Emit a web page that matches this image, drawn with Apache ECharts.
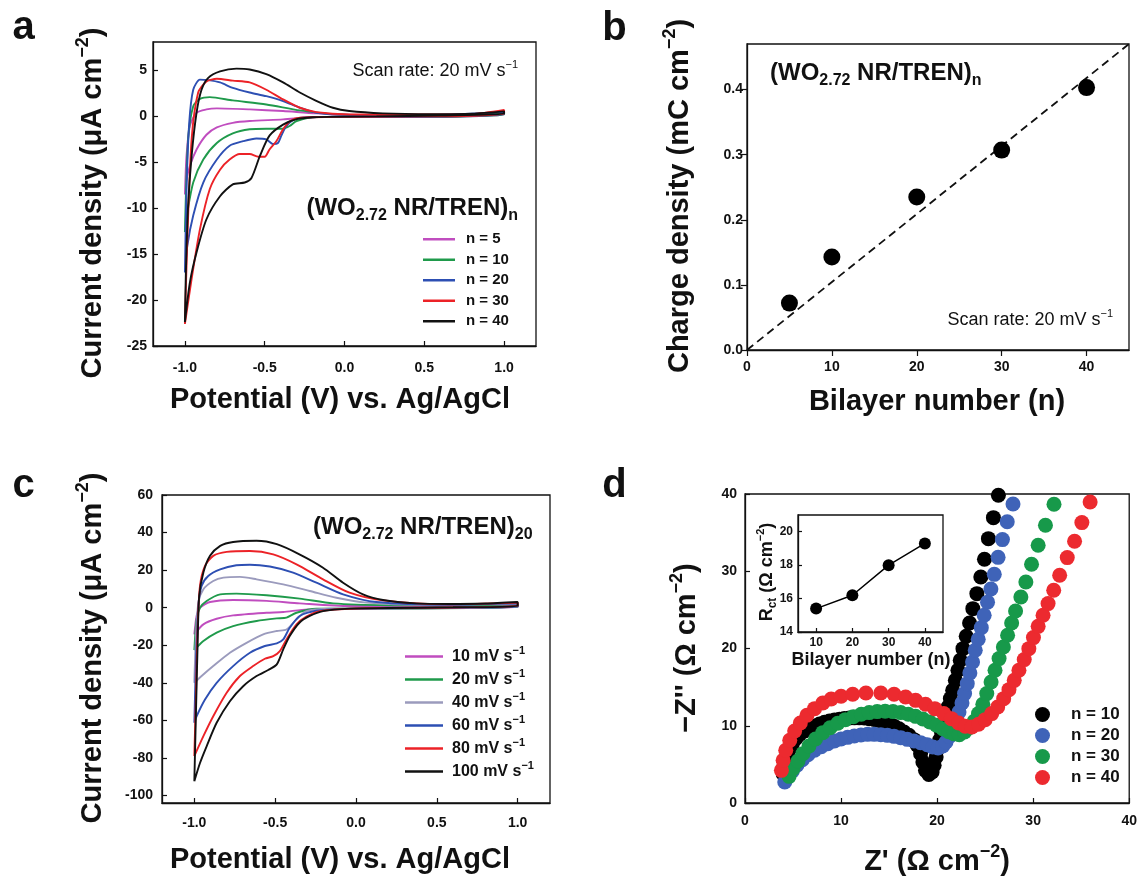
<!DOCTYPE html>
<html>
<head>
<meta charset="utf-8">
<script src="https://cdn.jsdelivr.net/npm/echarts@6/dist/echarts.min.js"></script>
<style>html,body{margin:0;padding:0;background:#fff}#chart{width:1140px;height:880px}</style>
</head>
<body>
<div id="chart"></div>
<script>
// ---------- DATA ----------
// Panel a: CV curves (potential V, current density uA cm-2), scan rate 20 mV/s
const cvA_names = ['n = 5', 'n = 10', 'n = 20', 'n = 30', 'n = 40'];
const cvA_n5 = [[-1.0,-8.5],[-0.99,-4.3],[-0.969,-1.05],[-0.927,0.4],[-0.865,0.76],[-0.80,0.87],[-0.594,0.76],[-0.385,0.58],[-0.177,0.33],[0.24,0.1],[0.6,0.1],[1.0,0.33],
  [1.0,0.18],[0.5,-0.05],[-0.177,-0.07],[-0.385,-0.33],[-0.594,-0.5],[-0.70,-0.7],[-0.80,-1.2],[-0.865,-2.0],[-0.927,-3.6],[-0.969,-5.4],[-0.994,-7.2],[-1.0,-8.5]];
const cvA_n10 = [[-1.0,-12.6],[-0.98,-2.5],[-0.948,1.1],[-0.906,1.9],[-0.844,2.1],[-0.70,1.74],[-0.49,1.3],[-0.28,0.65],[-0.073,0.25],[0.24,0.1],[0.6,0.1],[1.0,0.4],
  [1.0,0.18],[0.5,-0.05],[-0.177,-0.07],[-0.30,-0.5],[-0.344,-1.05],[-0.385,-1.34],[-0.49,-1.34],[-0.594,-1.4],[-0.70,-1.85],[-0.80,-2.9],[-0.885,-4.7],[-0.948,-7.2],[-0.985,-10.5],[-1.0,-12.6]];
const cvA_n20 = [[-1.0,-17],[-0.99,-7.9],[-0.973,-0.7],[-0.948,2.9],[-0.906,4.0],[-0.854,3.95],[-0.78,3.7],[-0.70,3.1],[-0.594,2.6],[-0.49,2.2],[-0.385,1.67],[-0.28,0.94],[-0.177,0.4],[0.03,0.15],[0.5,0.15],[1.0,0.47],
  [1.0,0.22],[0.5,-0.05],[-0.177,-0.07],[-0.30,-0.25],[-0.365,-1.05],[-0.396,-2.1],[-0.417,-2.9],[-0.45,-3.0],[-0.49,-2.5],[-0.552,-2.4],[-0.635,-2.7],[-0.72,-3.2],[-0.80,-4.7],[-0.885,-7.2],[-0.948,-10.8],[-0.985,-14.1],[-1.0,-17]];
const cvA_n30 = [[-1.0,-22.6],[-0.985,-13.4],[-0.958,-2.5],[-0.917,2.6],[-0.865,3.8],[-0.80,4.1],[-0.70,3.9],[-0.594,3.7],[-0.49,2.9],[-0.385,1.85],[-0.28,0.94],[-0.177,0.47],[0.03,0.22],[0.45,0.2],[0.8,0.25],[1.0,0.69],
  [1.0,0.3],[0.6,0.0],[0.0,-0.04],[-0.28,-0.15],[-0.34,-0.5],[-0.385,-1.4],[-0.427,-2.7],[-0.47,-3.6],[-0.50,-4.4],[-0.54,-4.4],[-0.594,-4.1],[-0.656,-4.1],[-0.72,-4.7],[-0.78,-5.8],[-0.844,-7.9],[-0.906,-12.3],[-0.958,-17.7],[-1.0,-22.6]];
const cvA_n40 = [[-1.0,-22.4],[-0.994,-17],[-0.98,-9.7],[-0.958,-4.3],[-0.927,0.4],[-0.896,2.9],[-0.854,4.2],[-0.78,4.9],[-0.677,5.2],[-0.594,5.1],[-0.49,4.6],[-0.385,3.7],[-0.28,2.6],[-0.177,1.7],[-0.073,0.94],[0.03,0.58],[0.24,0.33],[0.55,0.25],[0.8,0.3],[1.0,0.55],
  [1.0,0.3],[0.6,0.1],[0.2,0.0],[-0.1,-0.05],[-0.2,-0.1],[-0.30,-0.3],[-0.385,-0.9],[-0.47,-2.1],[-0.53,-4.3],[-0.583,-6.7],[-0.625,-7.2],[-0.70,-7.4],[-0.78,-8.7],[-0.865,-11.2],[-0.927,-14.8],[-0.969,-18.1],[-1.0,-22.4]];
const cvA_colors = ['#c04dbf', '#1f9a4b', '#2d4fb3', '#ec2227', '#111111'];

// Panel b: charge density vs bilayer number
const bilayerB = [5, 10, 20, 30, 40];
const chargeB = [0.072, 0.143, 0.235, 0.307, 0.403];
const fitB = [[0, 0], [45, 0.47]];

// Panel c: CV curves of (WO2.72 NR/TREN)20 at different scan rates
const cvC_names = ['10 mV s-1', '20 mV s-1', '40 mV s-1', '60 mV s-1', '80 mV s-1', '100 mV s-1'];
const cvC_10 = [[-1.0,-14.2],[-0.986,-4.4],[-0.965,0],[-0.903,3.0],[-0.76,4.1],[-0.553,3.6],[-0.348,2.3],[-0.04,0.9],[0.5,0.9],[1.0,1.3],
  [1.0,0.2],[0.4,-0.3],[-0.3,-0.9],[-0.45,-2.3],[-0.553,-2.7],[-0.76,-4.1],[-0.862,-5.9],[-0.944,-8.9],[-1.0,-14.2]];
const cvC_20 = [[-1.0,-22.6],[-0.986,-6.2],[-0.965,0],[-0.924,3.6],[-0.84,7.1],[-0.74,7.5],[-0.553,6.6],[-0.348,4.8],[-0.142,2.3],[0.2,1.3],[0.6,1.2],[1.0,1.8],
  [1.0,0.3],[0.4,-0.4],[-0.245,-0.6],[-0.368,-2.7],[-0.43,-5.3],[-0.49,-5.7],[-0.615,-7.1],[-0.76,-9.8],[-0.862,-13.3],[-0.944,-17.8],[-1.0,-22.6]];
const cvC_40 = [[-1.0,-40],[-0.99,-15.1],[-0.975,2.7],[-0.944,9.8],[-0.883,14.2],[-0.82,16],[-0.718,16.4],[-0.615,15.1],[-0.45,12.4],[-0.286,8.9],[-0.121,5.3],[0.064,2.7],[0.4,1.4],[1.0,2.1],
  [1.0,0.5],[0.4,-0.3],[-0.167,-0.5],[-0.307,-1.8],[-0.368,-6.2],[-0.43,-11.6],[-0.49,-12.4],[-0.574,-14.2],[-0.677,-18.7],[-0.78,-24],[-0.883,-31.1],[-0.955,-36.4],[-1.0,-40]];
const cvC_60 = [[-1.0,-61.3],[-0.99,-29.3],[-0.975,0.9],[-0.955,11.6],[-0.914,16.9],[-0.84,20.4],[-0.74,22.6],[-0.656,22.9],[-0.533,21.9],[-0.389,18.7],[-0.245,13.3],[-0.08,7.1],[0.125,3.0],[0.578,1.6],[1.0,2.3],
  [1.0,0.5],[0.6,0.0],[0.0,-0.5],[-0.245,-1.6],[-0.348,-4.4],[-0.41,-10.7],[-0.45,-16.9],[-0.49,-19],[-0.564,-20.4],[-0.656,-24],[-0.76,-31.1],[-0.862,-40],[-0.934,-48.9],[-0.986,-57.8],[-1.0,-61.3]];
const cvC_80 = [[-1.0,-79],[-0.99,-47],[-0.98,-11.6],[-0.965,11.6],[-0.934,22.2],[-0.883,27.6],[-0.80,29.7],[-0.656,30.2],[-0.512,28.4],[-0.368,23.1],[-0.204,15.1],[-0.04,8],[0.167,3.9],[0.578,1.8],[1.0,2.7],
  [1.0,0.9],[0.6,0.1],[0.0,-0.4],[-0.224,-1.8],[-0.307,-4.8],[-0.368,-8.9],[-0.43,-16.9],[-0.471,-23.1],[-0.512,-25.8],[-0.564,-27.2],[-0.636,-31.1],[-0.718,-36.4],[-0.80,-45.3],[-0.883,-57.8],[-0.944,-68.4],[-1.0,-79]];
const cvC_100 = [[-1.0,-92.4],[-0.99,-56],[-0.98,-20.4],[-0.97,6.2],[-0.944,18.7],[-0.903,27.6],[-0.84,32.9],[-0.76,35],[-0.615,35.6],[-0.49,33.8],[-0.35,28.4],[-0.204,21.3],[-0.08,13.3],[0.043,7.1],[0.167,4.1],[0.372,2.3],[0.578,1.96],[0.8,2.2],[1.0,3.0],
  [1.0,0.9],[0.6,0.2],[0.2,-0.2],[-0.04,-0.5],[-0.204,-1.8],[-0.286,-4.4],[-0.35,-8],[-0.41,-15.1],[-0.45,-22.2],[-0.49,-30.2],[-0.543,-33.2],[-0.615,-36.4],[-0.698,-41.8],[-0.78,-49.8],[-0.862,-61.3],[-0.924,-73.8],[-0.965,-82.7],[-1.0,-92.4]];
const cvC_colors = ['#c04dbf', '#1f9a4b', '#9b9bbd', '#2d4fb3', '#ec2227', '#111111'];

// Panel d: Nyquist plots (Z', -Z'')
const eis_names = ['n = 10', 'n = 20', 'n = 30', 'n = 40'];
const eis_n10 = [[3.97,3.80],[4.03,4.66],[4.21,5.52],[4.41,6.30],[4.66,7.03],[4.93,7.68],[5.28,8.33],[5.69,8.89],[6.21,9.32],[6.72,9.67],[7.24,9.97],[7.76,10.23],[8.28,10.45],[8.79,10.62],[9.31,10.75],[9.83,10.85],[10.34,10.95],[10.86,11.0],[11.38,11.02],[11.90,11.02],[12.41,11.0],[12.93,10.92],[13.45,10.82],[13.97,10.68],[14.48,10.5],[15.0,10.25],[15.52,9.95],[16.03,9.62],[16.55,9.19],[17.07,8.76],[17.59,8.2],[17.93,7.47],[18.28,6.39],[18.52,5.31],[18.79,4.23],[19.14,3.7],[19.48,4.01],[19.69,4.88],[19.90,5.96],[20.07,7.03],[20.24,8.11],[20.45,9.19],[20.66,10.27],[20.86,11.35],[21.14,12.43],[21.38,13.51],[21.62,14.59],[21.90,15.88],[22.17,17.18],[22.41,18.47],[22.69,19.98],[23.03,21.58],[23.38,23.31],[23.72,25.16],[24.14,27.10],[24.55,29.26],[24.93,31.55],[25.34,34.22],[25.86,36.94],[26.38,39.84]];
const eis_n20 = [[4.14,2.72],[4.48,3.37],[4.93,4.14],[5.41,4.88],[5.97,5.61],[6.55,6.26],[7.24,6.82],[7.93,7.29],[8.62,7.68],[9.31,8.03],[10.0,8.29],[10.69,8.50],[11.38,8.68],[12.07,8.80],[12.76,8.89],[13.45,8.89],[14.14,8.85],[14.83,8.76],[15.52,8.63],[16.21,8.46],[16.90,8.24],[17.59,8.03],[18.28,7.81],[18.97,7.55],[19.55,7.25],[20.10,7.12],[20.59,7.38],[20.93,7.90],[21.28,8.63],[21.62,9.62],[21.97,10.70],[22.28,11.78],[22.59,12.95],[22.86,14.16],[23.14,15.45],[23.41,16.83],[23.69,18.26],[23.97,19.77],[24.28,21.2],[24.6,22.7],[24.9,24.3],[25.25,26.0],[25.6,27.7],[25.95,29.6],[26.35,31.8],[26.8,34.1],[27.3,36.4],[27.9,38.7]];
const eis_n30 = [[4.59,3.45],[5.0,4.45],[5.52,5.44],[6.03,6.39],[6.66,7.38],[7.34,8.29],[8.10,9.11],[8.86,9.75],[9.66,10.32],[10.45,10.79],[11.28,11.18],[12.10,11.48],[12.93,11.70],[13.76,11.83],[14.59,11.87],[15.41,11.83],[16.21,11.70],[17.0,11.48],[17.76,11.22],[18.52,10.88],[19.24,10.49],[19.93,10.06],[20.59,9.62],[21.21,9.22],[21.79,8.95],[22.31,8.85],[22.86,9.19],[23.34,9.75],[23.86,10.57],[24.31,11.57],[24.76,12.78],[25.17,14.16],[25.62,15.67],[26.03,17.18],[26.45,18.69],[26.90,20.20],[27.34,21.71],[27.76,23.31],[28.17,24.86],[28.72,26.67],[29.24,28.61],[29.83,30.90],[30.52,33.36],[31.28,35.95],[32.17,38.67]];
const eis_n40 = [[3.79,4.23],[3.97,5.52],[4.24,6.82],[4.66,8.11],[5.17,9.32],[5.76,10.36],[6.45,11.35],[7.24,12.21],[8.10,12.95],[8.97,13.47],[10.0,13.81],[11.21,14.07],[12.59,14.24],[14.14,14.24],[15.52,14.07],[16.72,13.72],[17.76,13.29],[18.79,12.78],[19.76,12.21],[20.69,11.57],[21.48,10.92],[22.24,10.36],[22.93,9.93],[23.62,9.84],[24.31,10.19],[25.0,10.79],[25.69,11.57],[26.31,12.43],[26.93,13.51],[27.48,14.67],[28.03,15.88],[28.52,17.18],[29.07,18.56],[29.55,19.98],[30.03,21.41],[30.52,22.87],[31.03,24.30],[31.55,25.81],[32.14,27.54],[32.76,29.48],[33.55,31.77],[34.31,33.88],[35.07,36.30],[35.93,38.97]];
const eis_colors = ['#000000', '#3f63b8', '#17994a', '#ec2a2f'];

// Inset: Rct vs bilayer number
const bilayerInset = [10, 20, 30, 40];
const rctInset = [15.4, 16.2, 18.0, 19.3];

// Tick values
const ticksA_x = [-1, -0.5, 0, 0.5, 1];
const ticksA_y = [-25, -20, -15, -10, -5, 0, 5];
const ticksB_x = [0, 10, 20, 30, 40];
const ticksB_y = [0, 0.1, 0.2, 0.3, 0.4];
const ticksC_x = [-1, -0.5, 0, 0.5, 1];
const ticksC_y = [-100, -80, -60, -40, -20, 0, 20, 40, 60];
const ticksD = [0, 10, 20, 30, 40];
const ticksIn_x = [10, 20, 30, 40];
const ticksIn_y = [14, 16, 18, 20];

// ---------- CHART ----------
const FONT = '"Liberation Sans", Arial, Helvetica, sans-serif';
const INK = '#111';
const chart = echarts.init(document.getElementById('chart'), null, {renderer: 'canvas'});

function mkAxis(gi, min, max, vals, fmt, o) {
  o = o || {};
  return {
    type: 'value', gridIndex: gi, min: min, max: max,
    axisLine: {show: true, onZero: false, lineStyle: {color: INK, width: 1.3}},
    axisTick: {show: true, inside: o.inside !== false, length: o.tickLen || 5, customValues: vals, lineStyle: {color: INK, width: 1.2}},
    axisLabel: {show: true, customValues: vals, formatter: fmt, fontFamily: FONT, fontWeight: 'bold',
      fontSize: o.fs || 14, color: INK, margin: o.margin || 8},
    splitLine: {show: false}
  };
}
const f1 = v => v.toFixed(1);
const f0 = v => String(Math.round(v));

function grid(l, t, w, h, bg) {
  return {left: l, top: t, width: w, height: h, show: true, borderColor: INK, borderWidth: 1.3,
    backgroundColor: bg || 'transparent', containLabel: false};
}

const grids = [
  grid(153, 42, 383, 304),
  grid(747, 44, 382, 306),
  grid(162, 495, 388, 308),
  grid(745, 494, 387, 309),
  grid(798, 515, 145, 117, '#ffffff')
];

const xAxes = [
  mkAxis(0, -1.2, 1.2, ticksA_x, f1, {margin: 15}),
  mkAxis(1, 0, 45, ticksB_x, f0, {inside: false, tickLen: 6, margin: 10}),
  mkAxis(2, -1.2, 1.2, ticksC_x, f1, {margin: 13}),
  mkAxis(3, 0, 40, ticksD, f0, {margin: 11}),
  mkAxis(4, 5, 45, ticksIn_x, f0, {fs: 12, margin: 5, tickLen: 4})
];
const yAxes = [
  mkAxis(0, -25, 8.1, ticksA_y, f0, {margin: 6}),
  mkAxis(1, 0, 0.47, ticksB_y, f1, {inside: false, tickLen: 6, margin: 4}),
  mkAxis(2, -104, 60, ticksC_y, f0, {margin: 9}),
  mkAxis(3, 0, 40, ticksD, f0, {margin: 8}),
  mkAxis(4, 14, 21, ticksIn_y, f0, {fs: 12, margin: 5, tickLen: 4})
];

const series = [];
[cvA_n5, cvA_n10, cvA_n20, cvA_n30, cvA_n40].forEach((d, i) => {
  series.push({type: 'line', name: cvA_names[i], xAxisIndex: 0, yAxisIndex: 0, data: d,
    showSymbol: false, symbol: 'none', smooth: 0.25, lineStyle: {color: cvA_colors[i], width: 1.9},
    itemStyle: {color: cvA_colors[i]}, silent: true});
});
series.push({type: 'line', name: 'fit', xAxisIndex: 1, yAxisIndex: 1, data: fitB, symbol: 'none',
  lineStyle: {color: INK, width: 1.8, type: [8, 5]}, silent: true});
series.push({type: 'scatter', name: 'charge', xAxisIndex: 1, yAxisIndex: 1, z: 4,
  data: bilayerB.map((b, i) => [b, chargeB[i]]), symbolSize: 17, itemStyle: {color: '#000', opacity: 1}, silent: true});
[cvC_10, cvC_20, cvC_40, cvC_60, cvC_80, cvC_100].forEach((d, i) => {
  series.push({type: 'line', name: cvC_names[i], xAxisIndex: 2, yAxisIndex: 2, data: d,
    showSymbol: false, symbol: 'none', smooth: 0.25, lineStyle: {color: cvC_colors[i], width: 1.9},
    itemStyle: {color: cvC_colors[i]}, silent: true});
});
[eis_n10, eis_n20, eis_n30, eis_n40].forEach((d, i) => {
  series.push({type: 'scatter', name: 'EIS ' + eis_names[i], xAxisIndex: 3, yAxisIndex: 3, data: d,
    symbolSize: 15, itemStyle: {color: eis_colors[i], opacity: 1}, silent: true});
});
series.push({type: 'line', name: 'Rct', xAxisIndex: 4, yAxisIndex: 4, z: 5,
  data: bilayerInset.map((b, i) => [b, rctInset[i]]), symbol: 'circle', symbolSize: 12, showSymbol: true,
  lineStyle: {color: '#000', width: 1.5}, itemStyle: {color: '#000', opacity: 1}, silent: true});

const legTxt = (fs, lh, pad) => ({fontFamily: FONT, fontWeight: 'bold', fontSize: fs, color: INK, lineHeight: lh, padding: [0, 0, 0, pad]});
const legends = [
  {data: cvA_names, left: 423, top: 229, orient: 'vertical', icon: 'rect', itemWidth: 32, itemHeight: 2.5,
    itemGap: 0, padding: 0, selectedMode: false, textStyle: legTxt(15, 20.5, 6)},
  {data: cvC_names, left: 405, top: 645, orient: 'vertical', icon: 'rect', itemWidth: 38, itemHeight: 2.5,
    itemGap: 0, padding: 0, selectedMode: false,
    formatter: n => '{a|' + n.replace(' s-1', ' s') + '}{s|\u22121}',
    textStyle: Object.assign(legTxt(16, 23.2, 4), {rich: {
      a: {fontFamily: FONT, fontWeight: 'bold', fontSize: 16, color: INK, lineHeight: 23},
      s: {fontFamily: FONT, fontWeight: 'bold', fontSize: 11, color: INK, lineHeight: 14, verticalAlign: 'top'}}})},
  {data: eis_names.map(n => 'EIS ' + n), left: 1035, top: 704, orient: 'vertical', icon: 'circle',
    itemWidth: 15, itemHeight: 15, itemGap: 0, padding: 0, selectedMode: false,
    itemStyle: {opacity: 1},
    formatter: n => n.replace('EIS ', ''), textStyle: legTxt(17, 21, 16)}
];

// rich text helpers
function richSet(size, weight) {
  return {
    t: {fontFamily: FONT, fontSize: size, fontWeight: weight, color: INK, lineHeight: Math.round(size * 1.3)},
    p: {fontFamily: FONT, fontSize: Math.round(size * 0.62), fontWeight: weight, color: INK, lineHeight: Math.round(size * 0.76), verticalAlign: 'top'},
    s: {fontFamily: FONT, fontSize: Math.round(size * 0.66), fontWeight: weight, color: INK, lineHeight: Math.round(size * 0.66), verticalAlign: 'bottom'}
  };
}
function txt(x, y, text, size, weight, align, rot) {
  return {type: 'text', x: x, y: y, rotation: rot || 0, silent: true, z: 100,
    style: {text: text, rich: richSet(size, weight), textAlign: align, align: align,
      textVerticalAlign: 'middle', verticalAlign: 'middle', fill: INK}};
}
const R90 = Math.PI / 2;
const WO = '{t|(WO}{s|2.72}{t| NR/TREN)}';
const elements = [
  txt(23.5, 28, '{t|a}', 40, 'bold', 'center'),
  txt(614.5, 29, '{t|b}', 40, 'bold', 'center'),
  txt(23.5, 486, '{t|c}', 40, 'bold', 'center'),
  txt(614.5, 486, '{t|d}', 40, 'bold', 'center'),
  // axis titles
  txt(93, 203, '{t|Current density (\u03bcA cm}{p|\u22122}{t|)}', 29, 'bold', 'center', R90),
  txt(340, 400, '{t|Potential (V) vs. Ag/AgCl}', 29, 'bold', 'center'),
  txt(680, 196, '{t|Charge density (mC cm}{p|\u22122}{t|)}', 29, 'bold', 'center', R90),
  txt(937, 402, '{t|Bilayer number (n)}', 29, 'bold', 'center'),
  txt(93, 648, '{t|Current density (\u03bcA cm}{p|\u22122}{t|)}', 29, 'bold', 'center', R90),
  txt(340, 860, '{t|Potential (V) vs. Ag/AgCl}', 29, 'bold', 'center'),
  txt(687, 648, "{t|\u2212Z'' (\u03a9 cm}{p|\u22122}{t|)}", 29, 'bold', 'center', R90),
  txt(937, 862, "{t|Z' (\u03a9 cm}{p|\u22122}{t|)}", 29, 'bold', 'center'),
  // annotations
  txt(518, 71, '{t|Scan rate: 20 mV s}{p|\u22121}', 18, 'normal', 'right'),
  txt(518, 208, WO + '{s|n}', 24, 'bold', 'right'),
  txt(770, 73, WO + '{s|n}', 24, 'bold', 'left'),
  txt(1113, 320, '{t|Scan rate: 20 mV s}{p|\u22121}', 18, 'normal', 'right'),
  txt(313, 527, WO + '{s|20}', 24, 'bold', 'left'),
  // inset titles
  txt(767, 572, '{t|R}{s|ct}{t| (\u03a9 cm}{p|\u22122}{t|)}', 18, 'bold', 'center', R90),
  txt(871, 660, '{t|Bilayer number (n)}', 18, 'bold', 'center')
];

chart.setOption({
  animation: false,
  backgroundColor: '#ffffff',
  textStyle: {fontFamily: FONT},
  grid: grids,
  xAxis: xAxes,
  yAxis: yAxes,
  legend: legends,
  series: series,
  graphic: {elements: elements}
});
</script>
</body>
</html>
